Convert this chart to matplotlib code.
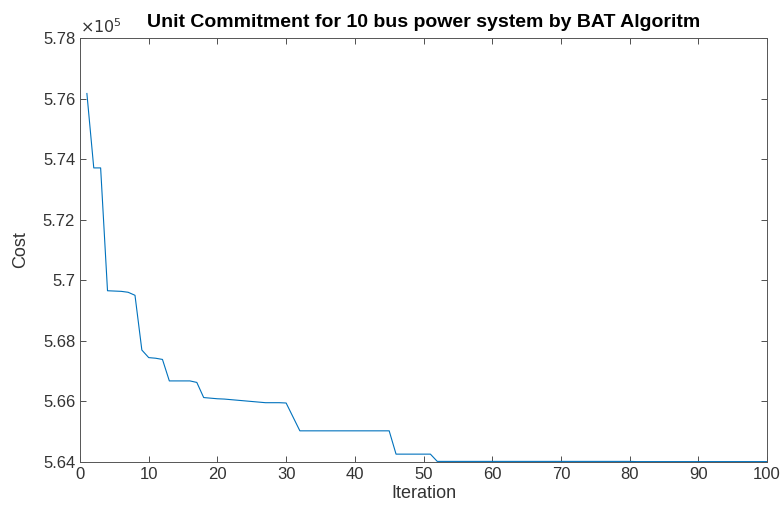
import matplotlib
matplotlib.use("Agg")
from matplotlib import pyplot as plt
from matplotlib.ticker import FuncFormatter

plt.rcParams['font.family'] = ['Liberation Sans', 'DejaVu Sans']

# best cost per iteration
iterations = list(range(1, 101))
cost = [
    576170, 573710, 573710, 569650, 569640, 569630, 569600, 569500, 567690, 567440,
    567420, 567380, 566670, 566670, 566670, 566670, 566620, 566120, 566100, 566080,
    566070, 566050, 566030, 566010, 565990, 565970, 565950, 565950, 565950, 565940,
    565480, 565020, 565020, 565020, 565020, 565020, 565020, 565020, 565020, 565020,
    565020, 565020, 565020, 565020, 565020, 564250, 564250, 564250, 564250, 564250,
    564250, 564010, 564010, 564010, 564010, 564010, 564010, 564010, 564010, 564010,
    564010, 564010, 564010, 564010, 564010, 564010, 564010, 564010, 564010, 564010,
    564010, 564010, 564010, 564010, 564010, 564010, 564010, 564010, 564010, 564010,
    564003, 564003, 564003, 564003, 564003, 564003, 564003, 564003, 564003, 564003,
    564003, 564003, 564003, 564003, 564003, 564003, 564003, 564003, 564003, 564003,
]
y_ticks = [564000, 566000, 568000, 570000, 572000, 574000, 576000, 578000]
x_ticks = [0, 10, 20, 30, 40, 50, 60, 70, 80, 90, 100]

axis_col = '#333333'

fig = plt.figure(figsize=(7.83, 5.15), dpi=100)
ax = fig.add_axes([0.1022, 0.1035, 0.8774, 0.8225])
ax.plot(iterations, cost, color='#0072BD', linewidth=0.8)

ax.set_xlim(0, 100)
ax.set_ylim(564000, 578000)
ax.set_xticks(x_ticks)
ax.set_yticks(y_ticks)
ax.yaxis.set_major_formatter(FuncFormatter(lambda v, p: f"{v / 1e5:g}"))
ax.tick_params(direction='in', top=True, right=True, length=4, width=0.6,
               colors=axis_col, labelsize=12)
ax.tick_params(axis='x', pad=4)
for s in ax.spines.values():
    s.set_color('#555555')
    s.set_linewidth(0.7)

ax.set_xlabel('Iteration', fontsize=13, color=axis_col, labelpad=2)
ax.set_ylabel('Cost', fontsize=13, color=axis_col, labelpad=10)
ax.set_title('Unit Commitment for 10 bus power system by BAT Algoritm',
             fontsize=14, fontweight='bold', color='black', pad=8)
ax.text(0.0, 1.005, r'$\times10^5$', transform=ax.transAxes, fontsize=11.5,
        color=axis_col, ha='left', va='bottom')

fig.savefig('out.png', dpi=100)
